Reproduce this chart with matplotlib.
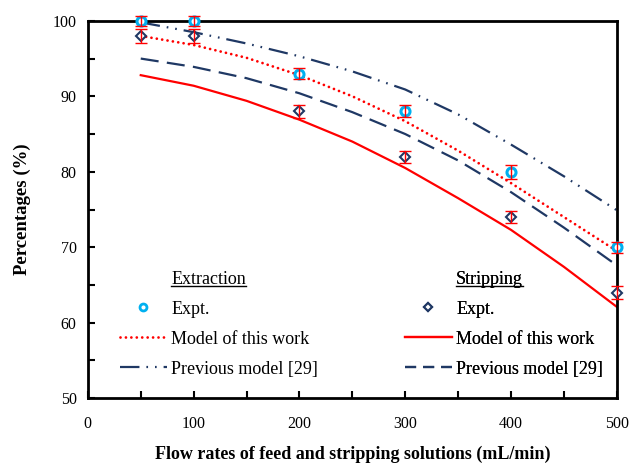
import matplotlib
matplotlib.use("Agg")
import matplotlib.pyplot as plt
from matplotlib.lines import Line2D

# experimental points
x_exp = [50, 100, 200, 300, 400, 500]
ext_exp = [100, 100, 93, 88, 80, 70]
ext_err = [0.7, 0.7, 0.7, 0.8, 0.9, 0.7]
strip_exp = [98, 98, 88, 82, 74, 64]
strip_err = [0.9, 0.9, 0.9, 0.8, 0.8, 0.9]

# model curves
x_mod = [50, 100, 150, 200, 250, 300, 350, 400, 450, 500]
ext_model = [98.0, 96.8, 95.1, 92.8, 90.0, 86.7, 82.8, 78.5, 74.0, 69.5]
ext_prev = [99.8, 98.5, 97.0, 95.3, 93.3, 90.9, 87.6, 83.6, 79.4, 74.9]
strip_model = [92.8, 91.4, 89.4, 86.9, 84.0, 80.5, 76.5, 72.3, 67.4, 62.1]
strip_prev = [95.0, 93.9, 92.4, 90.4, 87.9, 85.0, 81.5, 77.3, 72.6, 67.6]

RED = "#FF0000"
NAVY = "#1F3864"
CYAN = "#00B0F0"

plt.rcParams["font.family"] = ["Liberation Serif", "DejaVu Serif"]
plt.rcParams["font.size"] = 13
plt.rcParams["lines.scale_dashes"] = False

fig = plt.figure(figsize=(6.32, 4.63), dpi=100)
ax = fig.add_axes([0.139, 0.140, 0.837, 0.815])

ln_ext_prev, = ax.plot(x_mod, ext_prev, color=NAVY, lw=1.6,
                       linestyle=(0, (14, 5, 1.2, 5, 1.2, 5)))
ln_ext_mod, = ax.plot(x_mod, ext_model, color=RED, lw=2.0,
                      linestyle=(0, (0.01, 3.9)), dash_capstyle="round")
ln_str_prev, = ax.plot(x_mod, strip_prev, color=NAVY, lw=1.6,
                       linestyle=(0, (13, 6)))
ln_str_mod, = ax.plot(x_mod, strip_model, color=RED, lw=1.6)

ax.plot(x_exp, ext_exp, linestyle="none", marker="o", ms=6.5, mfc="white",
        mec=CYAN, mew=2.2, zorder=4, clip_on=False)
ax.plot(x_exp, strip_exp, linestyle="none", marker="D", ms=5.5, mfc="white",
        mec=NAVY, mew=1.5, zorder=4, clip_on=False)
ax.errorbar(x_exp, ext_exp, yerr=ext_err, fmt="none", ecolor=RED, elinewidth=1.0,
            capsize=4, capthick=1.0, zorder=5, clip_on=False)
ax.errorbar(x_exp, strip_exp, yerr=strip_err, fmt="none", ecolor=RED, elinewidth=1.0,
            capsize=4, capthick=1.0, zorder=5, clip_on=False)

ax.set_xlim(0, 500)
ax.set_ylim(50, 100)
ax.set_xticks([0, 100, 200, 300, 400, 500])
ax.set_xticks(range(50, 500, 100), minor=True)
ax.set_yticks([50, 60, 70, 80, 90, 100])
ax.set_yticks(range(55, 100, 10), minor=True)
ax.tick_params(which="both", direction="in", length=5, width=1.5, pad=8, labelsize=11.5)
ax.tick_params(axis="x", pad=13)
for s in ax.spines.values():
    s.set_linewidth(2)

ax.set_xlabel("Flow rates of feed and stripping solutions (mL/min)",
              fontweight="bold", labelpad=10)
ax.set_ylabel("Percentages (%)", fontweight="bold", labelpad=16, fontsize=13.5)

blank = Line2D([], [], linestyle="none")
h_ext_exp = Line2D([], [], linestyle="none", marker="o", ms=5, mfc="white", mec=CYAN, mew=2)
h_str_exp = Line2D([], [], linestyle="none", marker="D", ms=4.5, mfc="white", mec=NAVY, mew=1.5)
h_str_prev = Line2D([], [], color=NAVY, lw=1.6, linestyle=(0, (8, 5)))

legs = []
for handles, labels, anchor in [
    ([blank, h_ext_exp, ln_ext_mod, ln_ext_prev],
     ["Extraction", "Expt.", "Model of this work", "Previous model [29]"], (0.06, 0.054)),
    ([blank, h_str_exp, ln_str_mod, h_str_prev],
     ["Stripping", "Expt.", "Model of this work", "Previous model [29]"], (0.599, 0.054)),
]:
    leg = ax.legend(handles, labels, loc="lower left", bbox_to_anchor=anchor,
                    frameon=False, handlelength=2.6, handletextpad=0.25,
                    labelspacing=0.72, borderaxespad=0, borderpad=0, fontsize=13)
    ax.add_artist(leg)
    legs.append(leg)

# underline the group titles
fig.canvas.draw()
r = fig.canvas.get_renderer()
for leg in legs:
    bb = leg.get_texts()[0].get_window_extent(r)
    bb = bb.transformed(fig.transFigure.inverted())
    fig.add_artist(Line2D([bb.x0, bb.x1], [bb.y0 + 0.004, bb.y0 + 0.004],
                          transform=fig.transFigure, color="black", lw=1))

fig.savefig("out.png", dpi=100)
